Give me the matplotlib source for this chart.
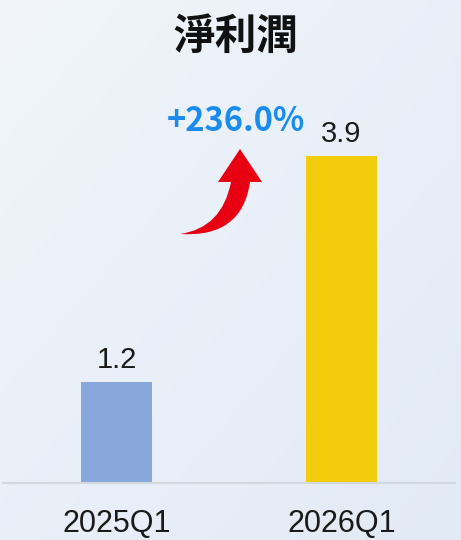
import numpy as np
import matplotlib
matplotlib.use('Agg')
import matplotlib.pyplot as plt
from matplotlib.path import Path
from matplotlib.patches import PathPatch

plt.rcParams['font.family'] = ['Liberation Sans', 'Noto Sans CJK TC', 'DejaVu Sans']

## 数据
categories = ['2025Q1', '2026Q1']
values = [1.2, 3.9]
bar_colors = ['#88a8dc', '#f3cc0c']
title = '淨利潤'
growth_label = '+236.0%'

W, H = 461, 540
fig = plt.figure(figsize=(W / 100, H / 100), dpi=100)

## 背景渐变
bg = fig.add_axes([0, 0, 1, 1], zorder=0)
gx, gy = np.meshgrid(np.linspace(0, 1, 200), np.linspace(0, 1, 200))
t = (gx + gy) / 2
c0 = np.array([0xf1, 0xf5, 0xfb]) / 255
c1 = np.array([0xe2, 0xea, 0xf5]) / 255
img = c0[None, None, :] * (1 - t[..., None]) + c1[None, None, :] * t[..., None]
bg.imshow(img, aspect='auto', extent=[0, 1, 0, 1], origin='upper')
bg.axis('off')

## 柱状图
ax = fig.add_axes([3 / W, 57 / H, 452 / W, 419 / H], zorder=1)
ax.patch.set_alpha(0)
x = np.arange(len(categories))
ax.bar(x, values, width=0.316, color=bar_colors)
for xi, v in zip(x, values):
    ax.text(xi, v + 0.1, f'{v:.1f}', ha='center', va='bottom', fontsize=21, color='#1a1a1a')
ax.set_xlim(-0.504, 1.504)
ax.set_ylim(0, 5.0)
ax.set_xticks(x)
ax.set_xticklabels(categories, fontsize=22, color='#1a1a1a')
ax.tick_params(axis='x', length=0, pad=19)
ax.set_yticks([])
for s in ['top', 'right', 'left']:
    ax.spines[s].set_visible(False)
ax.spines['bottom'].set_color('#d3d7de')
ax.spines['bottom'].set_linewidth(1.5)

## 标题与增长率
fig.text(236 / W, 1 - 37 / H, title, ha='center', va='center', fontsize=30,
         fontweight='bold', family=['Noto Sans CJK TC'], color='#111111')
fig.text(236 / W, 1 - 122 / H, growth_label, ha='center', va='center', fontsize=23.5,
         fontweight='bold', family=['Noto Sans CJK TC'], color='#1a8cf0')

## 红色弯箭头 (像素坐标)
def P(px, py):
    return (px, H - py)

verts = [P(180, 234), P(222, 228), P(231, 182), P(218, 182), P(240, 149),
         P(262, 182), P(250, 182), P(242, 238), P(180, 234), P(180, 234)]
codes = [Path.MOVETO, Path.CURVE3, Path.CURVE3, Path.LINETO, Path.LINETO,
         Path.LINETO, Path.LINETO, Path.CURVE3, Path.CURVE3, Path.CLOSEPOLY]
arrow = PathPatch(Path(verts, codes), facecolor='#e60012', edgecolor='none',
                  transform=None, zorder=5)
fig.patches.append(arrow)

fig.savefig('out.png', dpi=100)
